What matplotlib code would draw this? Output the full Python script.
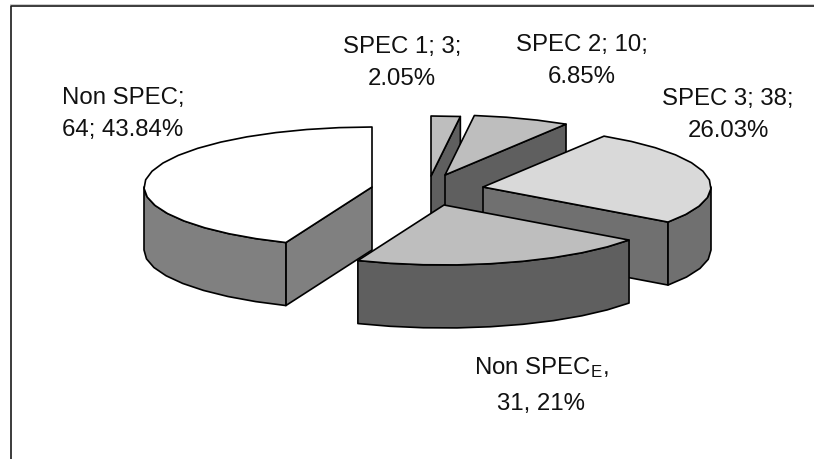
import numpy as np
import matplotlib
matplotlib.use("Agg")
import matplotlib.pyplot as plt
from matplotlib.patches import Polygon

plt.rcParams['font.family'] = ['Liberation Sans', 'DejaVu Sans']
plt.rcParams['mathtext.fontset'] = 'custom'
plt.rcParams['mathtext.rm'] = 'Liberation Sans'
plt.rcParams['mathtext.default'] = 'regular'

# values, clockwise from 12 o'clock
categories = ["SPEC 1", "SPEC 2", "SPEC 3", "Non SPEC_E", "Non SPEC"]
counts = [3, 10, 38, 31, 64]
labels = ["SPEC 1; 3;\n2.05%", "SPEC 2; 10;\n6.85%", "SPEC 3; 38;\n26.03%",
          "Non SPEC$_{E}$,\n31, 21%", "Non SPEC;\n64; 43.84%"]

# look of each slice, pixel coordinates of the figure
centers = [(431, 176), (445, 175), (483, 187), (444, 205), (372, 187)]
topColors = ["#bebebe", "#bebebe", "#d9d9d9", "#bebebe", "#ffffff"]
sideColors = ["#5f5f5f", "#5f5f5f", "#707070", "#5f5f5f", "#808080"]
labelPos = [(402, 63), (582, 61), (728, 115), (541, 385), (123, 114)]
labelSpacing = [1.55, 1.55, 1.55, 1.78, 1.55]
drawOrder = [0, 1, 2, 4, 3]

RX = 228
RY = 60
DEPTH = 63
EDGE = 1.2


# clockwise angle from the top in degrees -> point on the ellipse round the center
def rimPoint(center, angle):
    a = np.radians(angle)
    return np.array([center[0] + RX * np.sin(a), center[1] - RY * np.cos(a)])


def rimPoints(center, a1, a2):
    n = max(2, int(abs(a2 - a1) / 8) + 1)
    return np.array([rimPoint(center, a) for a in np.linspace(a1, a2, n)])


def addFace(ax, pts, color):
    ax.add_patch(Polygon(pts, closed=True, facecolor=color, edgecolor="black",
                         linewidth=EDGE, joinstyle="round"))


def drawSlice(ax, center, a1, a2, topColor, sideColor):
    down = np.array([0, DEPTH])
    c = np.array(center, dtype=float)

    # flat cut walls, only the ones turned to the viewer
    if 0 < a2 < 180:
        p = rimPoint(center, a2)
        addFace(ax, [c, p, p + down, c + down], sideColor)
    if 180 < a1 < 360:
        p = rimPoint(center, a1)
        addFace(ax, [c, p, p + down, c + down], sideColor)

    # outer wall is seen between 90 and 270 only
    lo = max(a1, 90)
    hi = min(a2, 270)
    if lo < hi:
        rim = rimPoints(center, lo, hi)
        addFace(ax, np.vstack([rim, rim[::-1] + down]), sideColor)

    top = np.vstack([[c], rimPoints(center, a1, a2)])
    addFace(ax, top, topColor)


def main():
    fig = plt.figure(figsize=(8.14, 4.59), dpi=100)
    ax = fig.add_axes([0, 0, 1, 1])
    ax.set_xlim(0, 814)
    ax.set_ylim(459, 0)
    ax.axis("off")

    # chart frame, right and bottom run off the picture
    ax.plot([10, 814], [4, 4], color="#cccccc", linewidth=0.7)
    ax.plot([10.5, 10.5, 814], [459, 5.5, 5.5], color="#1a1a1a", linewidth=1.2)

    edges = np.cumsum([0] + counts) / sum(counts) * 360
    for i in drawOrder:
        drawSlice(ax, centers[i], edges[i], edges[i + 1], topColors[i], sideColors[i])

    for text, pos, sp in zip(labels, labelPos, labelSpacing):
        ax.text(pos[0], pos[1], text, ha="center", va="center", fontsize=17.3,
                linespacing=sp, color="#111111")

    fig.savefig("out.png", dpi=100)


if __name__ == '__main__':
    main()
